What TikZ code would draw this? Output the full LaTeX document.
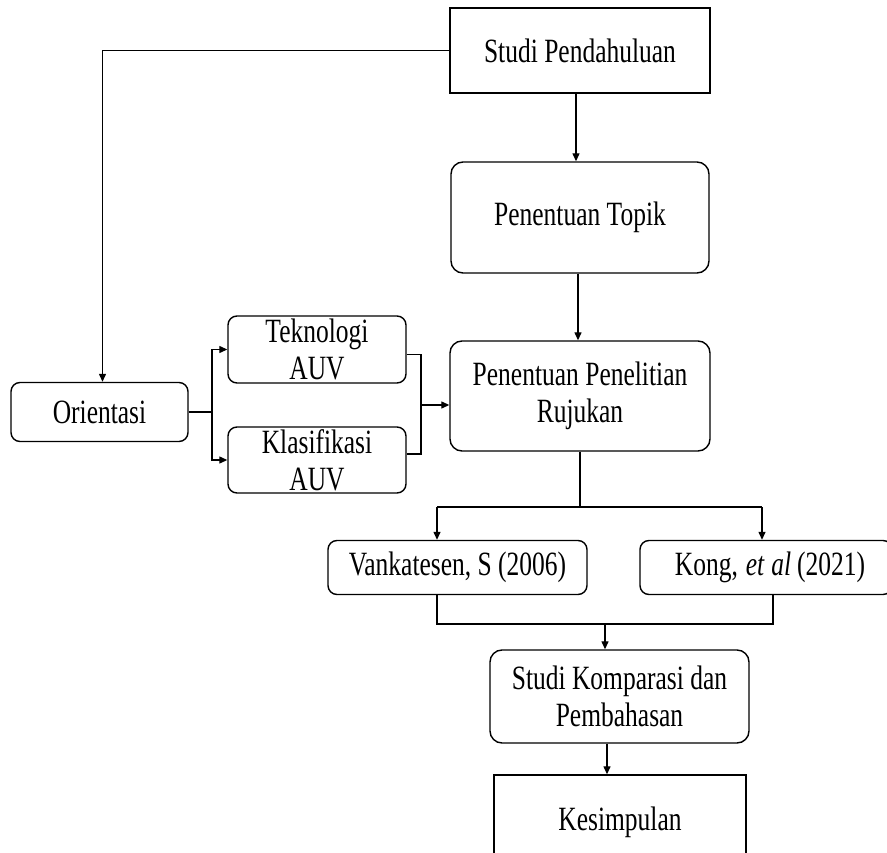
\documentclass[tikz,border=0pt]{standalone}
\usepackage{fontspec}
\setmainfont{Liberation Serif}[FakeStretch=0.75]
\newfontface\itcond{Liberation Serif Italic}[FakeStretch=0.75]
\usetikzlibrary{arrows.meta}
\begin{document}
\begin{tikzpicture}[x=1pt,y=-1pt,
  every node/.style={font=\fontsize{34}{37}\selectfont, inner sep=0pt, align=center},
  sqbox/.style={draw, line width=1.4pt, rectangle},
  rbox/.style={draw, line width=1.4pt, rectangle, rounded corners=12pt},
  srbox/.style={draw, line width=1.4pt, rectangle, rounded corners=9pt},
  conn/.style={line width=1.3pt},
  arr/.style={line width=1.3pt, -{Triangle[length=8pt,width=7pt]}}]
\useasboundingbox (0,0) rectangle (887,853);

\node[sqbox, minimum width=260pt, minimum height=85pt] (sp) at (580,50.5) {Studi Pendahuluan};
\node[rbox, minimum width=258pt, minimum height=111pt] (pt) at (580,217.5) {Penentuan Topik};
\node[rbox, minimum width=260pt, minimum height=110pt] (ppr) at (580,396) {Penentuan Penelitian\\Rujukan};
\node[srbox, minimum width=177pt, minimum height=59pt] (ori) at (99.5,412) {Orientasi};
\node[srbox, minimum width=178pt, minimum height=67pt] (tek) at (317,349.5) {Teknologi\\AUV};
\node[srbox, minimum width=178pt, minimum height=66pt] (kla) at (317,460) {Klasifikasi\\AUV};
\node[srbox, minimum width=259pt, minimum height=54pt] (van) at (457.5,567.5) {Vankatesen, S (2006)};
\node[srbox, minimum width=252pt, minimum height=54pt, text width=252pt] (kong) at (766,567.5) {\hspace*{8pt}Kong,\hspace{8pt}{\itcond et\hspace{7pt}al}\hspace{6pt}(2021)};
\node[rbox, minimum width=259pt, minimum height=93pt] (sk) at (619.5,696.5) {Studi Komparasi dan\\Pembahasan};
\node[sqbox, minimum width=252pt, minimum height=94pt] (kes) at (620,822) {Kesimpulan};

% Studi Pendahuluan -> Orientasi
\draw[arr] (sp.west) -| ([xshift=3pt]ori.north);
% main vertical chain
\draw[arr] ([xshift=-4pt]sp.south) -- ([xshift=-4pt]pt.north);
\draw[arr] ([xshift=-2pt]pt.south) -- ([xshift=-2pt]ppr.north);

% Orientasi -> Teknologi / Klasifikasi
\coordinate (jl) at (212,412);
\draw[conn] (ori.east) -- (jl);
\draw[arr] (jl) |- (tek.west);
\draw[arr] (jl) |- (kla.west);

% Teknologi / Klasifikasi -> Penentuan Penelitian
\coordinate (jr) at (421,405);
\draw[conn] ([yshift=-5pt]tek.east) -| (jr) |- ([yshift=6pt]kla.east);
\draw[arr] (jr) -- (jr -| ppr.west);

% Penentuan Penelitian -> Vankatesen / Kong
\coordinate (b1) at (437,507);
\coordinate (b2) at (762,507);
\draw[conn] (ppr.south) -- (ppr.south |- b1);
\draw[conn] (b1) -- (b2);
\draw[arr] (b1) -- (b1 |- van.north);
\draw[arr] (b2) -- (b2 |- kong.north);

% Vankatesen / Kong -> Studi Komparasi
\coordinate (c1) at (437,624);
\coordinate (c2) at (773,624);
\coordinate (cm) at (605,624);
\draw[conn] (c1 |- van.south) -- (c1) -- (c2) -- (c2 |- kong.south);
\draw[arr] (cm) -- (cm |- sk.north);

% Studi Komparasi -> Kesimpulan
\coordinate (d1) at (607,700);
\draw[arr] (d1 |- sk.south) -- (d1 |- kes.north);
\end{tikzpicture}
\end{document}
